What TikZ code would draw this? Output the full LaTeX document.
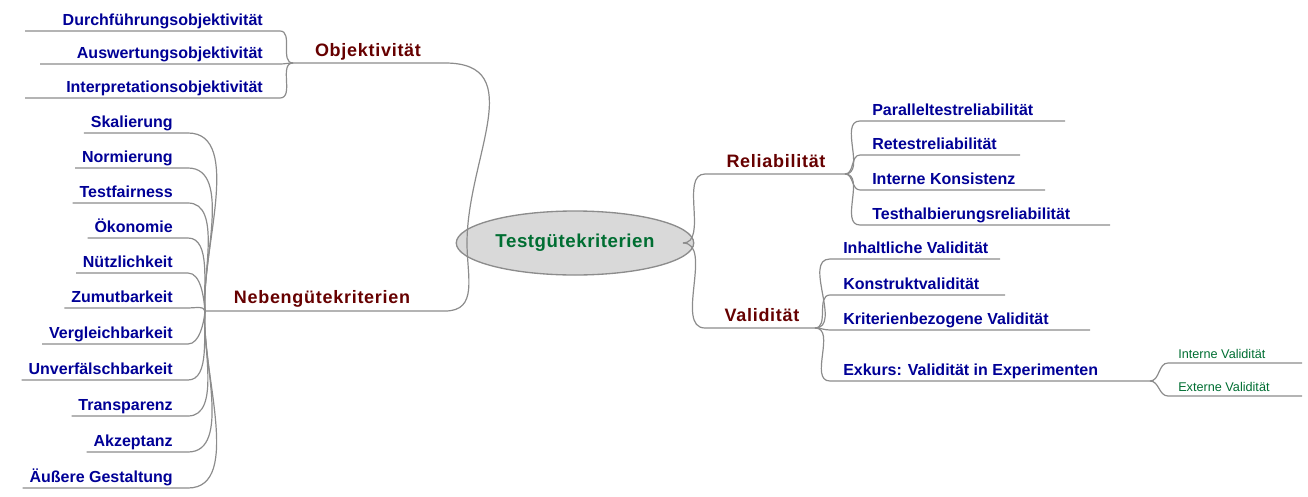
\documentclass[tikz,border=0pt]{standalone}
\usepackage{fontspec}
\setmainfont{Liberation Sans}
\usetikzlibrary{shapes.geometric}
\definecolor{lblue}{RGB}{0,0,150}
\definecolor{bred}{RGB}{102,0,0}
\definecolor{tgreen}{RGB}{0,110,50}
\definecolor{lgray}{RGB}{140,140,140}
\begin{document}
\begin{tikzpicture}[x=0.75pt,y=-0.75pt,
  leaf/.style={inner sep=0,font=\bfseries\fontsize{12}{14}\selectfont,text=lblue},
  sub/.style={inner sep=0,font=\fontsize{9.5}{11}\selectfont,text=tgreen},
  branch/.style={inner sep=0,font=\bfseries\fontsize{13.5}{16}\selectfont\addfontfeatures{LetterSpace=4},text=bred},
  con/.style={draw=lgray,line width=0.9pt}]
\useasboundingbox (0,0) rectangle (1308,496);
\node[ellipse,draw=lgray,line width=1pt,fill=black!15,minimum width=216*0.75pt,minimum height=64*0.75pt,font=\bfseries\fontsize{14}{16}\selectfont\addfontfeatures{LetterSpace=3},text=tgreen] (root) at (575,243) {Testgütekriterien};
\coordinate (rl) at (467,243); \coordinate (rr) at (683,243);
% Objektivitaet
\node[branch,anchor=base] (obj) at (368,56) {Objektivität};
\coordinate (os) at (293,63); \coordinate (oe) at (445,63);
\draw[con] (os) -- (oe) to[out=0,in=90,looseness=1.2] (rl);
\foreach \t/\y/\xl [count=\i] in {Durchführungsobjektivität/31/25,Auswertungsobjektivität/64/40,Interpretationsobjektivität/98/25}{
  \node[leaf,anchor=base east] (o\i) at (263,\y-6) {\t};
  \coordinate (ol\i) at (\xl,\y); \coordinate (or\i) at (280,\y);
  \draw[con] (ol\i) -- (or\i) to[out=0,in=180] (os);
}
% Nebenguetekriterien
\node[branch,anchor=base] (neb) at (322,303) {Nebengütekriterien};
\coordinate (ns) at (205,311); \coordinate (ne) at (445,311);
\draw[con] (ns) -- (ne) to[out=0,in=-90,looseness=1.2] (rl);
\foreach \t/\y [count=\i] in {Skalierung/133,Normierung/168,Testfairness/203,Ökonomie/238,Nützlichkeit/273,Zumutbarkeit/308,Vergleichbarkeit/344,Unverfälschbarkeit/380,Transparenz/416,Akzeptanz/452,Äußere Gestaltung/488}{
  \pgfmathsetmacro\ang{\y<311?95:-95}
  \node[leaf,anchor=base east] (n\i) at (173,\y-6) {\t};
  \coordinate (nr\i) at (188,\y);
  \draw[con] ([xshift=-5]n\i.west|-nr\i) -- (nr\i) to[out=0,in=\ang,looseness=0.8] (ns);
}
% Reliabilitaet
\node[branch,anchor=base] (rel) at (776,167) {Reliabilität};
\coordinate (res) at (705,174); \coordinate (ree) at (845,174);
\draw[con] (rr) to[out=0,in=180,looseness=0.9] (res) -- (ree);
\foreach \t/\y/\xe [count=\i] in {Paralleltestreliabilität/121/1065,Retestreliabilität/155/1020,Interne Konsistenz/190/1045,Testhalbierungsreliabilität/225/1110}{
  \node[leaf,anchor=base west] (r\i) at (872,\y-6) {\t};
  \coordinate (rs\i) at (860,\y); \coordinate (rx\i) at (\xe,\y);
  \draw[con] (ree) to[out=0,in=180] (rs\i) -- (rx\i);
}
% Validitaet
\node[branch,anchor=base] (val) at (762,321) {Validität};
\coordinate (vs) at (705,328); \coordinate (ve) at (815,328);
\draw[con] (rr) to[out=0,in=180,looseness=0.9] (vs) -- (ve);
\foreach \t/\y/\xe [count=\i] in {Inhaltliche Validität/259/1000,Konstruktvalidität/295/1005,Kriterienbezogene Validität/330/1090,Exkurs: Validität in Experimenten/381/1150}{
  \node[leaf,anchor=base west] (v\i) at (843,\y-6) {\t};
  \coordinate (vs\i) at (830,\y); \coordinate (vx\i) at (\xe,\y);
  \draw[con] (ve) to[out=0,in=180] (vs\i) -- (vx\i);
}
\foreach \t/\y [count=\i] in {Interne Validität/363,Externe Validität/396}{
  \node[sub,anchor=base west] (e\i) at (1178,\y-5) {\t};
  \coordinate (es\i) at (1168,\y); \coordinate (ex\i) at (1302,\y);
  \draw[con] (vx4) to[out=0,in=180] (es\i) -- (ex\i);
}
\end{tikzpicture}
\end{document}
